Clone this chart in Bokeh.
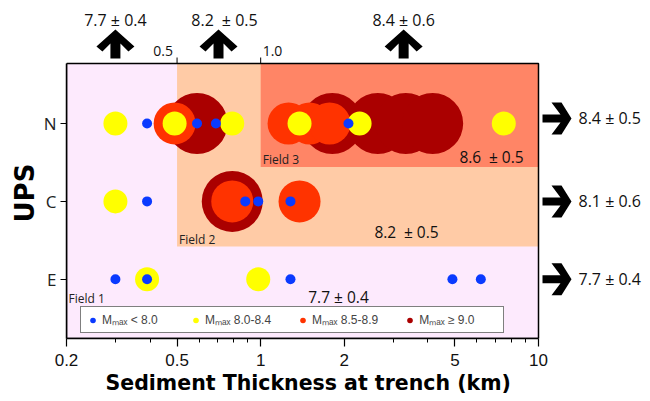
import math
from bokeh.plotting import figure
from bokeh.models import (FixedTicker, Label, PolyAnnotation, Legend, LegendItem,
                          Range1d, Title)
from bokeh.embed import file_html
from bokeh.resources import INLINE

# ---------------- data ----------------
ups_levels = ["E", "C", "N"]

blue_x = [0.39, 0.59, 0.69, 2.07, 0.39, 0.88, 0.98, 1.28, 0.30, 0.39, 1.28, 4.9, 6.2]
blue_ups = ["N", "N", "N", "N", "C", "C", "C", "C", "E", "E", "E", "E", "E"]

yellow_x = [0.30, 0.49, 0.79, 1.38, 2.27, 7.5, 0.30, 0.39, 0.98]
yellow_ups = ["N", "N", "N", "N", "N", "N", "C", "E", "E"]

orange_x = [0.49, 1.26, 1.5, 1.77, 0.79, 1.38]
orange_ups = ["N", "N", "N", "N", "C", "C"]

darkred_x = [0.59, 1.81, 2.64, 3.33, 4.16, 0.79]
darkred_ups = ["N", "N", "N", "N", "N", "C"]

# field limits (sediment thickness km / UPS level position)
field2_left, field3_left = 0.5, 1.0
field2_bottom, field3_bottom = 0.42, 1.44

x_ticks = [0.2, 0.5, 1, 2, 5, 10]
x_tick_labels = ["0.2", "0.5", "1", "2", "5", "10"]
x_minor = [0.3, 0.4, 0.6, 0.7, 0.8, 0.9, 3, 4, 6, 7, 8, 9]
top_ticks = [0.5, 1.0]
top_tick_labels = ["0.5", "1.0"]

field_labels = ["Field 1", "Field 2", "Field 3"]
field_values = ["7.7 ± 0.4", "8.2\u2002± 0.5", "8.6\u2002± 0.5"]
top_values = ["7.7 ± 0.4", "8.2\u2002± 0.5", "8.4 ± 0.6"]
top_arrow_x = [0.30, 0.705, 3.27]
right_values = ["8.4 ± 0.5", "8.1 ± 0.6", "7.7 ± 0.4"]
right_ups = ["N", "C", "E"]

legend_labels = ["M\u2098\u2090\u2093 < 8.0", "M\u2098\u2090\u2093 8.0-8.4",
                 "M\u2098\u2090\u2093 8.5-8.9", "M\u2098\u2090\u2093 \u2265 9.0\u2003\u2003"]

x_title = "Sediment Thickness at trench (km)"
y_title = "UPS"

# ---------------- styling ----------------
C_PINK = "#FDEAFD"
C_F2 = "#FFCBA6"
C_F3 = "#FF8566"
C_BLUE = "#0A3AFF"
C_YEL = "#FFFF00"
C_ORA = "#FF3300"
C_DRED = "#AA0000"

X0, X1 = 0.2, 10.0          # plot box x extent
Y0, Y1 = -0.76, 2.77        # plot box y extent
BW, BH = 472, 275           # plot box size in px
W, H = 650, 400
ML, MB = 66, 62
FW, FH = W - ML, H - MB     # frame (covers box + decoration area)
PPD = BW / math.log10(X1 / X0)
PPU = BH / (Y1 - Y0)
XR1 = X0 * 10 ** (FW / PPD)
YR1 = Y0 + FH / PPU

def ypos(u):
    return float(ups_levels.index(u))

def x_off(xd, px):
    return xd * 10 ** (px / PPD)

def y_off(yd, px):
    # positive px = down
    return yd - px / PPU

FONT = "Open Sans"

p = figure(width=W, height=H, x_axis_type="log",
           x_range=Range1d(X0, XR1), y_range=Range1d(Y0, YR1),
           output_backend="svg", toolbar_location=None,
           min_border_left=ML, min_border_right=0,
           min_border_top=0, min_border_bottom=MB)

p.background_fill_color = "white"
p.border_fill_color = "white"
p.grid.visible = False
p.outline_line_color = None

# plot box + fields
p.quad(left=[X0], right=[X1], bottom=[Y0], top=[Y1], fill_color=C_PINK, line_color=None)
p.quad(left=[field2_left], right=[X1], bottom=[field2_bottom], top=[Y1],
       fill_color=C_F2, line_color=None)
p.quad(left=[field3_left], right=[X1], bottom=[field3_bottom], top=[Y1],
       fill_color=C_F3, line_color=None)

r_dred = p.scatter(darkred_x, [ypos(u) for u in darkred_ups], size=61,
                   fill_color=C_DRED, line_color=None)
r_ora = p.scatter(orange_x, [ypos(u) for u in orange_ups], size=42,
                  fill_color=C_ORA, line_color=None)
r_yel = p.scatter(yellow_x, [ypos(u) for u in yellow_ups], size=24,
                  fill_color=C_YEL, line_color=None)
r_blue = p.scatter(blue_x, [ypos(u) for u in blue_ups], size=10,
                   fill_color=C_BLUE, line_color=None)

# box outline
p.quad(left=[X0], right=[X1], bottom=[Y0], top=[Y1], fill_color=None,
       line_color="black", line_width=1.5)

# axes
xa = p.xaxis[0]
xa.bounds = (X0, X1)
xa.ticker = FixedTicker(ticks=x_ticks, minor_ticks=x_minor)
xa.major_label_overrides = dict(zip(x_ticks, x_tick_labels))
xa.major_label_text_font = "Liberation Sans"
xa.major_label_text_font_size = "17px"
xa.major_label_text_color = "#111111"
xa.major_label_standoff = 7
xa.major_tick_in = 0
xa.major_tick_out = 8
xa.minor_tick_in = 0
xa.minor_tick_out = 4
xa.axis_line_width = 1.5
xa.major_tick_line_width = 1.2

ya = p.yaxis[0]
ya.bounds = (Y0, Y1)
ya.ticker = FixedTicker(ticks=[0, 1, 2], minor_ticks=[])
ya.major_label_overrides = {0: "E", 1: "C", 2: "N"}
ya.major_label_text_font = "Open Sans"
ya.major_label_text_font_size = "17px"
ya.major_label_text_color = "#222222"
ya.major_label_standoff = 4
ya.major_tick_in = 0
ya.major_tick_out = 6
ya.axis_line_width = 1.5

# axis titles (placed along the plot box rather than the whole frame)
p.add_layout(Title(text=x_title, align="left", offset=39, standoff=0,
                   text_font="DejaVu Sans", text_font_style="bold",
                   text_font_size="20.5px", text_color="black"), "below")
p.add_layout(Title(text=y_title, align="left", offset=116, standoff=2,
                   text_font="DejaVu Sans", text_font_style="bold",
                   text_font_size="26px", text_color="black"), "left")

# top ticks
p.segment(x0=top_ticks, x1=top_ticks, y0=[Y1] * 2, y1=[y_off(Y1, -6)] * 2,
          line_color="black", line_width=1)
p.add_layout(Label(x=x_off(top_ticks[0], -4), y=y_off(Y1, -13), text=top_tick_labels[0],
                   text_align="right", text_baseline="middle", text_font=FONT,
                   text_font_size="14px", text_color="#111111"))
p.add_layout(Label(x=x_off(top_ticks[1], 2), y=y_off(Y1, -13), text=top_tick_labels[1],
                   text_align="left", text_baseline="middle", text_font=FONT,
                   text_font_size="14px", text_color="#111111"))

# field labels and values
p.add_layout(Label(x=x_off(X0, 2), y=y_off(0, 19), text=field_labels[0], text_align="left",
                   text_baseline="middle", text_font=FONT, text_font_size="12px", text_color="#222"))
p.add_layout(Label(x=x_off(field2_left, 2), y=y_off(field2_bottom, -7), text=field_labels[1],
                   text_align="left", text_baseline="middle", text_font=FONT,
                   text_font_size="12px", text_color="#222"))
p.add_layout(Label(x=x_off(field3_left, 2), y=y_off(field3_bottom, -8), text=field_labels[2],
                   text_align="left", text_baseline="middle", text_font=FONT,
                   text_font_size="12px", text_color="#222"))

p.add_layout(Label(x=x_off(X0, 272), y=y_off(0, 18), text=field_values[0], text_align="center",
                   text_baseline="middle", text_font=FONT, text_font_size="15.5px", text_color="#111"))
p.add_layout(Label(x=x_off(X0, 340), y=y_off(field2_bottom, -15), text=field_values[1],
                   text_align="center", text_baseline="middle", text_font=FONT,
                   text_font_size="15.5px", text_color="#111"))
p.add_layout(Label(x=x_off(X0, 425), y=y_off(field3_bottom, -10), text=field_values[2],
                   text_align="center", text_baseline="middle", text_font=FONT,
                   text_font_size="15.5px", text_color="#111"))

# top arrows + values
up_shape = [(0, 0), (19, 17), (13, 22), (5, 14), (5, 29), (-5, 29), (-5, 14), (-13, 22), (-19, 17)]
top_text_dx = [0, 6, 0]
for xa_, tv, dx in zip(top_arrow_x, top_values, top_text_dx):
    tip_y = y_off(Y1, -34)
    xs = [x_off(xa_, sx) for sx, sy in up_shape]
    ys = [y_off(tip_y, sy) for sx, sy in up_shape]
    p.add_layout(PolyAnnotation(xs=xs, ys=ys, fill_color="black", fill_alpha=1,
                                line_color=None))
    p.add_layout(Label(x=x_off(xa_, dx), y=y_off(Y1, -44), text=tv, text_align="center",
                       text_baseline="middle", text_font=FONT, text_font_size="16px",
                       text_color="#111"))

# right arrows + values
right_shape = [(0, 0), (-10, -16), (-20, -16), (-11, -4), (-29, -4), (-29, 4), (-11, 4),
               (-20, 16), (-10, 16)]
right_dy = [-5, 0, 0]
for u, rv, dy in zip(right_ups, right_values, right_dy):
    yc = y_off(ypos(u), dy)
    xs = [x_off(X1, 33 + sx) for sx, sy in right_shape]
    ys = [y_off(yc, sy) for sx, sy in right_shape]
    p.add_layout(PolyAnnotation(xs=xs, ys=ys, fill_color="black", fill_alpha=1,
                                line_color=None))
    p.add_layout(Label(x=x_off(X1, 40), y=yc, text=rv, text_align="left",
                       text_baseline="middle", text_font=FONT, text_font_size="16px",
                       text_color="#111"))

legend = Legend(items=[LegendItem(label=legend_labels[0], renderers=[r_blue]),
                       LegendItem(label=legend_labels[1], renderers=[r_yel]),
                       LegendItem(label=legend_labels[2], renderers=[r_ora]),
                       LegendItem(label=legend_labels[3], renderers=[r_dred])],
                orientation="horizontal", location=(14, 5),
                background_fill_color="white", background_fill_alpha=1,
                border_line_color="black", border_line_width=1.5,
                label_text_font="Liberation Sans", label_text_font_size="12px",
                glyph_width=15, glyph_height=14, label_height=14, label_width=62,
                label_standoff=2, spacing=24, padding=4, margin=0)
p.add_layout(legend, "center")

open("out.html", "w").write(file_html(p, INLINE))
